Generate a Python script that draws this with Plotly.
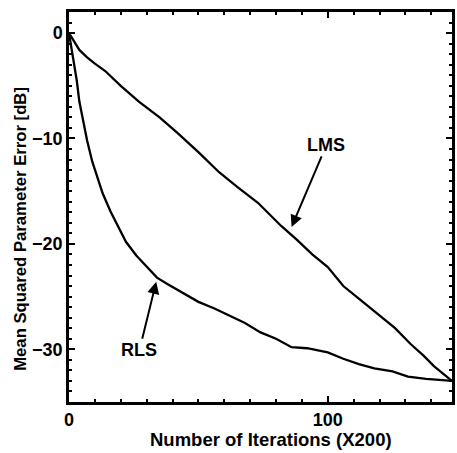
import plotly.graph_objects as go

lms_x = [0, 2, 4, 7, 10, 14, 20, 27, 35, 42, 50, 58, 65, 73, 82, 88, 94, 100, 106, 112, 119, 126, 132, 137, 141, 145, 148]
lms_y = [0, -0.8, -1.6, -2.3, -2.9, -3.6, -5.0, -6.5, -8.0, -9.5, -11.3, -13.2, -14.6, -16.1, -18.3, -19.6, -21.0, -22.2, -24.0, -25.2, -26.6, -28.0, -29.5, -30.6, -31.6, -32.4, -33.0]

rls_x = [0, 1, 2, 3, 4, 5.5, 7, 9, 11, 13, 16, 19, 22, 26, 30, 34, 38, 45, 50, 56, 62, 68, 74, 80, 86, 92, 100, 106, 112, 118, 125, 131, 138, 143, 148]
rls_y = [0, -1.5, -2.7, -4.5, -6.5, -8.5, -10.2, -12.2, -13.7, -15.2, -16.9, -18.4, -19.8, -21.1, -22.1, -23.2, -23.8, -24.8, -25.5, -26.1, -26.8, -27.5, -28.4, -29.0, -29.8, -29.9, -30.3, -30.9, -31.4, -31.8, -32.1, -32.6, -32.8, -32.9, -33.0]

x_ticks = [0, 100]
x_tick_text = ["0", "100"]
y_ticks = [0, -10, -20, -30]
y_tick_text = ["0", "\u221210", "\u221220", "\u221230"]

x_title = "Number of Iterations (X200)"
y_title = "Mean Squared Parameter Error [dB]"

font_family = "Liberation Sans, Arial, sans-serif"

fig = go.Figure()
fig.add_trace(go.Scatter(x=lms_x, y=lms_y, mode="lines", line=dict(color="black", width=2.3), name="LMS"))
fig.add_trace(go.Scatter(x=rls_x, y=rls_y, mode="lines", line=dict(color="black", width=2.3), name="RLS"))

fig.add_annotation(x=86, y=-18.4, ax=99.5, ay=-10.6, axref="x", ayref="y", xref="x", yref="y",
                   text="<b>LMS</b>", showarrow=True, arrowhead=2, arrowsize=1.2, arrowwidth=2,
                   arrowcolor="black", font=dict(size=18, color="black", family=font_family), standoff=0)
fig.add_annotation(x=33.7, y=-23.6, ax=27.2, ay=-30.1, axref="x", ayref="y", xref="x", yref="y",
                   text="<b>RLS</b>", showarrow=True, arrowhead=2, arrowsize=1.2, arrowwidth=2,
                   arrowcolor="black", font=dict(size=18, color="black", family=font_family), standoff=0)

# axis titles placed as paper annotations to match the reference offsets
fig.add_annotation(x=0.528, y=-0.095, xref="paper", yref="paper", xanchor="center", yanchor="middle",
                   text="<b>" + x_title + "</b>", showarrow=False,
                   font=dict(size=18.5, color="black", family=font_family))
fig.add_annotation(x=-0.127, y=0.445, xref="paper", yref="paper", xanchor="center", yanchor="middle",
                   text="<b>" + y_title + "</b>", showarrow=False, textangle=-90,
                   font=dict(size=16.7, color="black", family=font_family))

fig.update_layout(
    width=457, height=453,
    margin=dict(l=69, r=2, t=12, b=51),
    paper_bgcolor="white", plot_bgcolor="white",
    showlegend=False,
    font=dict(family=font_family, size=18, color="black"),
)
fig.update_xaxes(
    range=[0, 148], tickvals=x_ticks, ticktext=["<b>" + t + "</b>" for t in x_tick_text],
    ticks="inside", ticklen=6, tickwidth=1.5, tickcolor="black",
    showline=True, linecolor="black", linewidth=2.5, mirror="allticks",
    showgrid=False, zeroline=False,
    minor=dict(ticks="inside", dtick=10, ticklen=3, tickcolor="black", showgrid=False),
    tickfont=dict(size=18),
)
fig.update_yaxes(
    range=[-35, 2], tickvals=y_ticks, ticktext=["<b>" + t + "</b>" for t in y_tick_text],
    ticks="inside", ticklen=6, tickwidth=1.5, tickcolor="black",
    showline=True, linecolor="black", linewidth=2.5, mirror="allticks",
    showgrid=False, zeroline=False,
    minor=dict(ticks="inside", dtick=1, ticklen=3, tickcolor="black", showgrid=False),
    tickfont=dict(size=18),
)

fig.write_html("out.html")
